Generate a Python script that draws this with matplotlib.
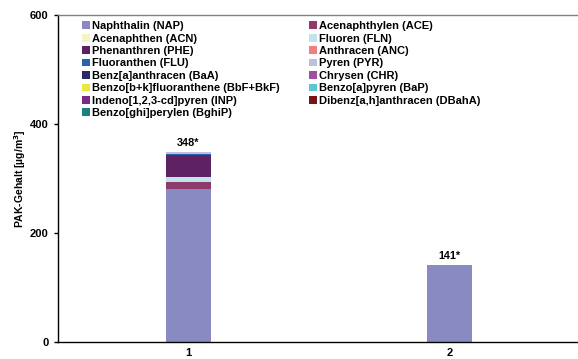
import numpy as np
import matplotlib.pyplot as plt

plt.rcParams['font.family'] = ['Liberation Sans', 'DejaVu Sans']
plt.rcParams['font.weight'] = 'bold'

# Samples on the x axis
samples = ["1", "2"]
totals = ["348*", "141*"]

# PAH compounds, in stacking order (bottom to top)
compounds = [
    "Naphthalin (NAP)", "Acenaphthylen (ACE)", "Acenaphthen (ACN)", "Fluoren (FLN)",
    "Phenanthren (PHE)", "Anthracen (ANC)", "Fluoranthen (FLU)", "Pyren (PYR)",
    "Benz[a]anthracen (BaA)", "Chrysen (CHR)", "Benzo[b+k]fluoranthene (BbF+BkF)",
    "Benzo[a]pyren (BaP)", "Indeno[1,2,3-cd]pyren (INP)", "Dibenz[a,h]anthracen (DBahA)",
    "Benzo[ghi]perylen (BghiP)",
]
colors = [
    "#8a8ac2", "#8e3a6a", "#f4f4c4", "#bfe4ec",
    "#5e2162", "#f08080", "#2a62b0", "#bebee0",
    "#2a2a6a", "#a050a0", "#e8e840",
    "#5ac8d0", "#7a2a8a", "#7a1414",
    "#1a8080",
]

# concentrations per compound [µg/m³], sample 1 and sample 2
nap = [281, 141]
ace = [13, 0]
acn = [0, 0]
fln = [9, 0]
phe = [40, 0]
anc = [0, 0]
flu = [3, 0]
pyr = [2, 0]
baa = [0, 0]
chr_ = [0, 0]
bbf_bkf = [0, 0]
bap = [0, 0]
inp = [0, 0]
dbaha = [0, 0]
bghip = [0, 0]
values = [nap, ace, acn, fln, phe, anc, flu, pyr, baa, chr_, bbf_bkf, bap, inp, dbaha, bghip]

fig = plt.figure(figsize=(5.78, 3.59), dpi=100)
ax = fig.add_axes([0.1003, 0.047, 0.903, 0.911])

x = np.arange(len(samples))
bottom = np.zeros(len(samples))
handles = []
for name, vals, col in zip(compounds, values, colors):
    vals = np.array(vals, dtype=float)
    h = ax.bar(x, vals, width=0.17, bottom=bottom, color=col, label=name)
    handles.append(h)
    bottom += vals

for xi, top, lbl in zip(x, bottom, totals):
    ax.text(xi, top + 8, lbl, ha='center', va='bottom', fontsize=7.8, fontweight='bold')

ax.set_xlim(-0.5, 1.5)
ax.set_ylim(0, 600)
ax.set_yticks([0, 200, 400, 600])
ax.set_xticks(x)
ax.set_xticklabels(samples)
ax.tick_params(axis='x', length=0, pad=4, labelsize=8)
ax.tick_params(axis='y', length=3, width=1, labelsize=8, pad=4)
for lbl in ax.get_xticklabels() + ax.get_yticklabels():
    lbl.set_fontweight('bold')

ax.spines['right'].set_visible(False)
ax.spines['top'].set_color('#808080')
ax.spines['top'].set_linewidth(1.0)
ax.spines['left'].set_linewidth(1.0)
ax.spines['bottom'].set_linewidth(1.0)

ax.set_ylabel("PAK-Gehalt [µg/m$^3$]", fontsize=7.5, fontweight='bold', labelpad=1)

# legend filled row by row in two columns
order = list(range(0, len(handles), 2)) + list(range(1, len(handles), 2))
ax.legend([handles[i] for i in order], [compounds[i] for i in order],
          ncol=2, loc='upper left', bbox_to_anchor=(0.037, 0.995), frameon=False,
          prop={'size': 8, 'weight': 'bold'}, handlelength=0.7, handleheight=0.7,
          handletextpad=0.25, labelspacing=0.22, columnspacing=2.6, borderaxespad=0)

fig.savefig("out.png", dpi=100)
